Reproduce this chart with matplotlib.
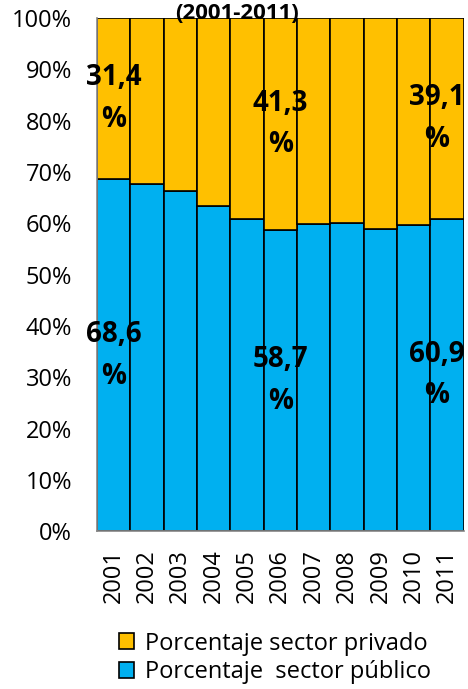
import numpy as np
import matplotlib
matplotlib.use("Agg")
import matplotlib.pyplot as plt

plt.rcParams['font.family'] = ['Open Sans', 'DejaVu Sans']

# datos
years = ['2001', '2002', '2003', '2004', '2005', '2006',
         '2007', '2008', '2009', '2010', '2011']
publico = [68.6, 67.6, 66.3, 63.4, 60.8, 58.7, 59.8, 60.0, 58.9, 59.7, 60.9]
privado = [round(100 - v, 1) for v in publico]
etiquetados = ['2001', '2006', '2011']

fig = plt.figure(figsize=(4.68, 6.89), dpi=100)
ax = fig.add_axes([0.207, 0.229, 0.784, 0.745])

x = np.arange(len(years))
pub = np.array(publico) / 100
priv = np.array(privado) / 100

ax.bar(x, pub, width=1.0, color='#00B0F0', edgecolor='black', linewidth=1.2,
       label='Porcentaje  sector público')
ax.bar(x, priv, bottom=pub, width=1.0, color='#FFC000', edgecolor='black',
       linewidth=1.2, label='Porcentaje sector privado')

# etiquetas de valores (la ultima se ajusta al borde, como en Excel)
for i, yr in enumerate(years):
    if yr in etiquetados:
        if i == len(years) - 1:
            xp, ha = x[i] + 0.52, 'right'
        else:
            xp, ha = x[i], 'center'
        for yc, val in [(pub[i] / 2, publico[i]), (pub[i] + priv[i] / 2, privado[i])]:
            ax.text(xp, yc, f"{val:.1f}".replace('.', ',') + "\n%",
                    ha=ha, va='center', multialignment='center',
                    fontsize=20, fontweight='bold', linespacing=1.58)

ax.set_xlim(-0.5, len(years) - 0.5)
ax.set_ylim(0, 1)
ax.set_yticks(np.arange(0, 1.01, 0.1))
ax.set_yticklabels([f"{int(round(v * 100))}%" for v in np.arange(0, 1.01, 0.1)],
                   fontsize=17)
ax.set_xticks(x)
ax.set_xticklabels(years, rotation=90, fontsize=17)
ax.tick_params(axis='both', length=0)
ax.tick_params(axis='y', pad=18)
ax.tick_params(axis='x', pad=13)

for s in ['top', 'right']:
    ax.spines[s].set_visible(False)
for s in ['left', 'bottom']:
    ax.spines[s].set_color('#868686')
    ax.spines[s].set_linewidth(1.2)

fig.text(0.507, 0.965, '(2001-2011)', ha='center', va='bottom',
         fontsize=16, fontweight='bold')

handles, labels = ax.get_legend_handles_labels()
fig.legend(handles[::-1], labels[::-1], loc='center', bbox_to_anchor=(0.587, 0.045),
           frameon=False, fontsize=17, handlelength=0.65, handleheight=0.65,
           handletextpad=0.45, labelspacing=0.2, borderpad=0.1)

fig.savefig('out.png', dpi=100)
